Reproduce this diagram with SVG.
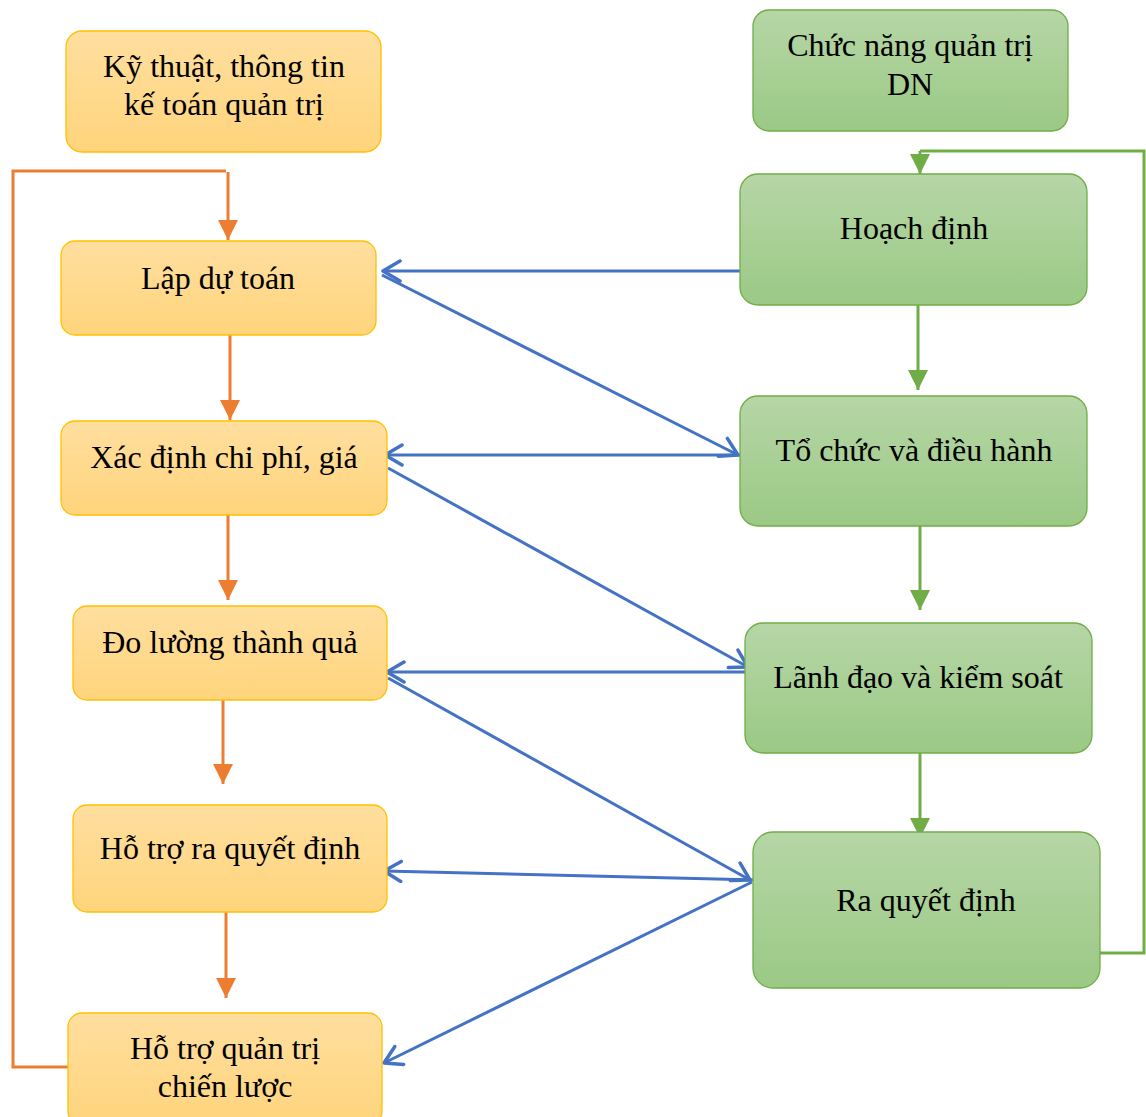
<svg xmlns="http://www.w3.org/2000/svg" width="1146" height="1117" viewBox="0 0 1146 1117">
<defs>
<linearGradient id="gO" x1="0" y1="0" x2="0" y2="1"><stop offset="0" stop-color="#FFDF9F"/><stop offset="1" stop-color="#FFD47C"/></linearGradient>
<linearGradient id="gG" x1="0" y1="0" x2="0" y2="1"><stop offset="0" stop-color="#B6D6A6"/><stop offset="1" stop-color="#9BC985"/></linearGradient>
<marker id="aO" markerUnits="userSpaceOnUse" markerWidth="20" markerHeight="20" refX="14" refY="7" orient="auto" viewBox="0 0 14 14"><path d="M0,0 L14,7 L0,14 Z" fill="#ED7D31"/></marker>
<marker id="aG" markerUnits="userSpaceOnUse" markerWidth="20" markerHeight="20" refX="14" refY="7" orient="auto" viewBox="0 0 14 14"><path d="M0,0 L14,7 L0,14 Z" fill="#70AD47"/></marker>
<marker id="aB" markerUnits="userSpaceOnUse" markerWidth="24" markerHeight="24" refX="20" refY="12" orient="auto" viewBox="0 0 24 24"><path d="M3,2 L20,12 L3,22" fill="none" stroke="#4472C4" stroke-width="3.5" stroke-linecap="round" stroke-linejoin="round"/></marker>
</defs>
<style>
.o{fill:url(#gO);stroke:#FFC000;stroke-width:1.3}
.g{fill:url(#gG);stroke:#70AD47;stroke-width:1.3}
.t{font-size:32px;fill:#000;text-anchor:middle}
.co{fill:none;stroke:#ED7D31;stroke-width:3}
.cg{fill:none;stroke:#70AD47;stroke-width:3}
.cb{fill:none;stroke:#4472C4;stroke-width:3}
</style>
<rect width="1146" height="1117" fill="#fff"/>
<g id="connectors">
<polyline class="co" points="68,1067 13,1067 13,171 226,171"/>
<line class="co" x1="228" y1="172" x2="228" y2="240" marker-end="url(#aO)"/>
<line class="co" x1="230" y1="335" x2="230" y2="420" marker-end="url(#aO)"/>
<line class="co" x1="228" y1="515" x2="228" y2="600" marker-end="url(#aO)"/>
<line class="co" x1="223" y1="700" x2="223" y2="784" marker-end="url(#aO)"/>
<line class="co" x1="226" y1="912" x2="226" y2="998" marker-end="url(#aO)"/>
<line class="cg" x1="918" y1="305" x2="918" y2="390" marker-end="url(#aG)"/>
<line class="cg" x1="920" y1="526" x2="920" y2="610" marker-end="url(#aG)"/>
<line class="cg" x1="920" y1="753" x2="920" y2="838" marker-end="url(#aG)"/>
<polyline class="cg" points="1100,953 1144,953 1144,151 920,151"/>
<line class="cg" x1="920" y1="151" x2="920" y2="174" marker-end="url(#aG)"/>
<line class="cb" x1="740" y1="271" x2="383" y2="271" marker-end="url(#aB)"/>
<line class="cb" x1="382" y1="275" x2="738" y2="455" marker-end="url(#aB)"/>
<line class="cb" x1="740" y1="455" x2="385" y2="455" marker-end="url(#aB)"/>
<line class="cb" x1="388" y1="468" x2="748" y2="667" marker-end="url(#aB)"/>
<line class="cb" x1="745" y1="672" x2="387" y2="672" marker-end="url(#aB)"/>
<line class="cb" x1="388" y1="678" x2="750" y2="880" marker-end="url(#aB)"/>
<line class="cb" x1="758" y1="880" x2="384" y2="871" marker-end="url(#aB)"/>
<line class="cb" x1="752" y1="882" x2="384" y2="1063" marker-end="url(#aB)"/>
</g>
<g font-family="Liberation Serif, Times New Roman, DejaVu Serif, serif">
<g id="n-kythuat"><rect class="o" x="66" y="31" width="315" height="121" rx="16"/><text class="t" x="224" y="77">Kỹ thuật, thông tin</text><text class="t" x="224" y="115">kế toán quản trị</text></g>
<g id="n-lapdutoan"><rect class="o" x="61" y="241" width="315" height="94" rx="14"/><text class="t" x="218" y="289">Lập dự toán</text></g>
<g id="n-xacdinh"><rect class="o" x="61" y="421" width="326" height="94" rx="14"/><text class="t" x="224" y="468">Xác định chi phí, giá</text></g>
<g id="n-doluong"><rect class="o" x="73" y="606" width="314" height="94" rx="14"/><text class="t" x="230" y="653">Đo lường thành quả</text></g>
<g id="n-hotrora"><rect class="o" x="73" y="805" width="314" height="107" rx="14"/><text class="t" x="230" y="859">Hỗ trợ ra quyết định</text></g>
<g id="n-hotroqt"><rect class="o" x="68" y="1013" width="314" height="112" rx="14"/><text class="t" x="225" y="1059">Hỗ trợ quản trị</text><text class="t" x="225" y="1097">chiến lược</text></g>
<g id="n-chucnang"><rect class="g" x="753" y="10" width="315" height="121" rx="16"/><text class="t" x="910" y="56">Chức năng quản trị</text><text class="t" x="910" y="95">DN</text></g>
<g id="n-hoachdinh"><rect class="g" x="740" y="174" width="347" height="131" rx="18"/><text class="t" x="914" y="239">Hoạch định</text></g>
<g id="n-tochuc"><rect class="g" x="740" y="396" width="347" height="130" rx="18"/><text class="t" x="914" y="461">Tổ chức và điều hành</text></g>
<g id="n-lanhdao"><rect class="g" x="745" y="623" width="347" height="130" rx="18"/><text class="t" x="918" y="688">Lãnh đạo và kiểm soát</text></g>
<g id="n-raquyetdinh"><rect class="g" x="753" y="832" width="347" height="156" rx="20"/><text class="t" x="926" y="911">Ra quyết định</text></g>
</g>
</svg>
